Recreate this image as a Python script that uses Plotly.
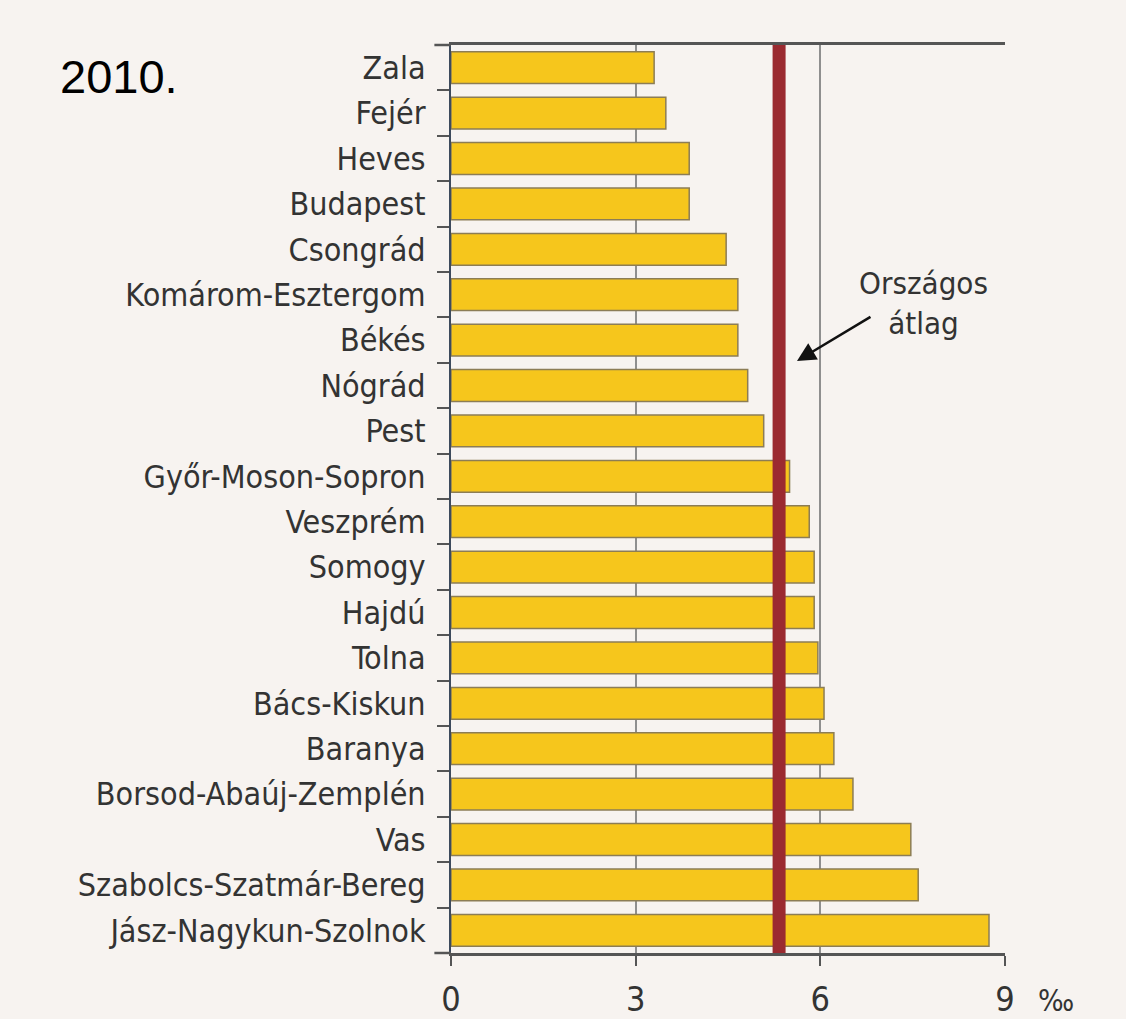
import plotly.graph_objects as go

counties = ["Zala", "Fejér", "Heves", "Budapest", "Csongrád", "Komárom-Esztergom",
            "Békés", "Nógrád", "Pest", "Győr-Moson-Sopron", "Veszprém", "Somogy",
            "Hajdú", "Tolna", "Bács-Kiskun", "Baranya", "Borsod-Abaúj-Zemplén",
            "Vas", "Szabolcs-Szatmár-Bereg", "Jász-Nagykun-Szolnok"]
values = [3.30, 3.49, 3.87, 3.87, 4.47, 4.66, 4.66, 4.82, 5.08, 5.50, 5.82, 5.90,
          5.90, 5.96, 6.06, 6.22, 6.53, 7.47, 7.59, 8.74]
national_avg = 5.33
x_ticks = [0, 3, 6, 9]
year_label = "2010."
avg_label = "Országos<br>átlag"
unit_label = "‰"

NARROW = "Liberation Sans Narrow, Arial Narrow, DejaVu Sans Condensed, sans-serif"
BG = "#f7f3f0"

fig = go.Figure()
fig.add_trace(go.Bar(
    y=counties, x=values, orientation="h",
    marker=dict(color="#f6c61c", line=dict(color="#8c7d55", width=1.5)),
    hoverinfo="x+y",
))

fig.add_shape(type="line", x0=national_avg, x1=national_avg, xref="x",
              y0=0, y1=1, yref="paper",
              line=dict(color="#9b2a30", width=13), layer="above")

# frame lines extend a little to the left of the value axis start
for yy in (0, 1):
    fig.add_shape(type="line", xref="paper", yref="paper",
                  x0=-0.03, x1=0, y0=yy, y1=yy,
                  line=dict(color="#555555", width=2.5), layer="above")

fig.add_annotation(text=year_label, xref="paper", yref="paper",
                   x=-0.599, y=0.965, xanchor="center", yanchor="middle",
                   showarrow=False, font=dict(family="Liberation Sans, Arial, sans-serif",
                                              size=47, color="#000000"))
fig.add_annotation(text=avg_label, xref="paper", yref="paper",
                   x=0.852, y=0.716, xanchor="center", yanchor="middle",
                   showarrow=False, font=dict(family=NARROW, size=31, color="#333333"))
fig.add_annotation(text="", xref="paper", yref="paper",
                   x=0.6245, y=0.652, ax=75, ay=-45,
                   showarrow=True, arrowhead=2, arrowsize=1.5, arrowwidth=2.5,
                   arrowcolor="#111111")
fig.add_annotation(text=unit_label, xref="paper", yref="paper",
                   x=1.092, y=-0.052, xanchor="center", yanchor="middle",
                   showarrow=False, font=dict(family=NARROW, size=30, color="#333333"))

fig.update_layout(
    width=1126, height=1019,
    margin=dict(l=451, r=121, t=45, b=66),
    paper_bgcolor=BG, plot_bgcolor=BG,
    bargap=0.3,
    showlegend=False,
    font=dict(family=NARROW, color="#333333"),
    xaxis=dict(range=[0, 9], tickvals=x_ticks, ticktext=[str(t) for t in x_ticks],
               showgrid=True, gridcolor="#8f8f8f", gridwidth=1.5,
               showline=True, linecolor="#555555", linewidth=2.5, mirror=True,
               ticks="outside", ticklen=10, tickwidth=2, tickcolor="#555555",
               ticklabelstandoff=4, automargin=False,
               tickfont=dict(family=NARROW, size=34, color="#333333"),
               zeroline=False, fixedrange=True),
    yaxis=dict(categoryorder="array", categoryarray=counties, autorange="reversed",
               showline=True, linecolor="#3d4a5c", linewidth=2,
               ticks="outside", ticklen=12, tickwidth=2, tickcolor="#555555",
               tickson="boundaries", ticklabelstandoff=17, automargin=False,
               tickfont=dict(family=NARROW, size=32, color="#333333"),
               showgrid=False, fixedrange=True),
)

fig.write_html("out.html")
